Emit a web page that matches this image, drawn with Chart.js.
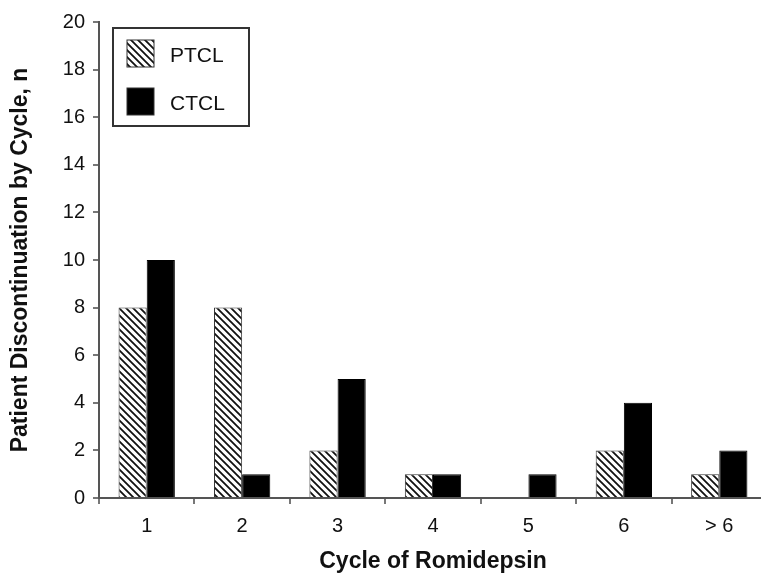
<!DOCTYPE html>
<html lang="en">
  <head>
    <title>Patient discontinuation by cycle</title>
    <meta charset="utf-8">
    <style>
      html, body { margin: 0; padding: 0; background: #fff; }
    </style>
  </head>
  <body>
    <canvas id="myChart" width="761" height="573"></canvas>

    <script src="https://cdn.jsdelivr.net/npm/chart.js@4.4.1/dist/chart.umd.min.js"></script>
    <script>
    const cycles = ['1', '2', '3', '4', '5', '6', '> 6']
    const ptcl = [8, 8, 2, 1, 0, 2, 1]
    const ctcl = [10, 1, 5, 1, 1, 4, 2]
    const yTicks = [0, 2, 4, 6, 8, 10, 12, 14, 16, 18, 20]

    // diagonal hatch for PTCL bars
    function hatch() {
      let c = document.createElement('canvas')
      c.width = 7; c.height = 7
      let g = c.getContext('2d')
      g.fillStyle = '#fff'
      g.fillRect(0, 0, 7, 7)
      g.strokeStyle = '#111'
      g.lineWidth = 1.8
      g.beginPath()
      g.moveTo(-1, -1); g.lineTo(8, 8)
      g.moveTo(-8, -1); g.lineTo(1, 8)
      g.moveTo(6, -1); g.lineTo(15, 8)
      g.stroke()
      return g.createPattern(c, 'repeat')
    }
    const stripes = hatch()

    // the original x axis runs a little past the right edge of the picture
    const widenX = {
      id: 'widenX',
      afterLayout(chart) {
        let x = chart.scales.x
        x.right = 767
        x.width = x.right - x.left
        x.configure()
        chart.chartArea.right = 767
        chart.chartArea.width = chart.chartArea.right - chart.chartArea.left
      }
    }

    // boxed legend in the upper left of the plot
    const boxLegend = {
      id: 'boxLegend',
      afterDraw(chart) {
        let ctx = chart.ctx
        let x = 113, y = 28
        ctx.save()
        ctx.strokeStyle = '#333'
        ctx.lineWidth = 2
        ctx.strokeRect(x, y, 136, 98)
        ctx.font = '21px "Liberation Sans", Arial, sans-serif'
        ctx.textBaseline = 'middle'
        chart.data.datasets.forEach(function(ds, i) {
          let sy = y + 12 + i * 48
          ctx.fillStyle = ds.backgroundColor
          ctx.fillRect(x + 14, sy, 27, 27)
          ctx.strokeStyle = '#333'
          ctx.lineWidth = 1
          ctx.strokeRect(x + 14, sy, 27, 27)
          ctx.fillStyle = '#111'
          ctx.fillText(ds.label, x + 57, sy + 16)
        })
        ctx.restore()
      }
    }

    const family = '"Liberation Sans", Arial, sans-serif'
    const font = { family: family, size: 20 }

    new Chart(document.getElementById('myChart'), {
      type: 'bar',
      data: {
        labels: cycles,
        datasets: [{
          label: 'PTCL',
          data: ptcl,
          backgroundColor: stripes,
          borderColor: '#333',
          borderWidth: 1,
          categoryPercentage: 0.59,
          barPercentage: 1
        }, {
          label: 'CTCL',
          data: ctcl,
          backgroundColor: '#000',
          borderColor: '#000',
          borderWidth: 1,
          categoryPercentage: 0.59,
          barPercentage: 1
        }]
      },
      options: {
        responsive: false,
        animation: false,
        layout: { padding: { top: 22, right: 0, left: 0, bottom: 0 } },
        plugins: {
          legend: { display: false },
          tooltip: { enabled: false }
        },
        scales: {
          x: {
            afterFit: function(axis) { axis.height = 75 },
            grid: { drawOnChartArea: false, drawTicks: true, tickLength: 6, color: '#777', lineWidth: 2 },
            border: { display: true, color: '#555', width: 2 },
            ticks: { color: '#111', font: font, padding: 10 },
            title: {
              display: true,
              text: 'Cycle of Romidepsin',
              color: '#111',
              font: { family: family, size: 23, weight: 'bold' },
              padding: { top: 0, bottom: -2 }
            }
          },
          y: {
            min: 0,
            max: 20,
            afterFit: function(axis) { axis.width = 99 },
            afterBuildTicks: function(axis) { axis.ticks = yTicks.map(v => ({ value: v })) },
            grid: { drawOnChartArea: false, drawTicks: true, tickLength: 6, color: '#777', lineWidth: 2 },
            border: { display: true, color: '#555', width: 2 },
            ticks: { color: '#111', font: font, padding: 8 },
            title: {
              display: true,
              text: 'Patient Discontinuation by Cycle, n',
              color: '#111',
              font: { family: family, size: 23, weight: 'bold' },
              padding: { top: 7, bottom: 0 }
            }
          }
        }
      },
      plugins: [widenX, boxLegend]
    })
    </script>
  </body>
</html>
